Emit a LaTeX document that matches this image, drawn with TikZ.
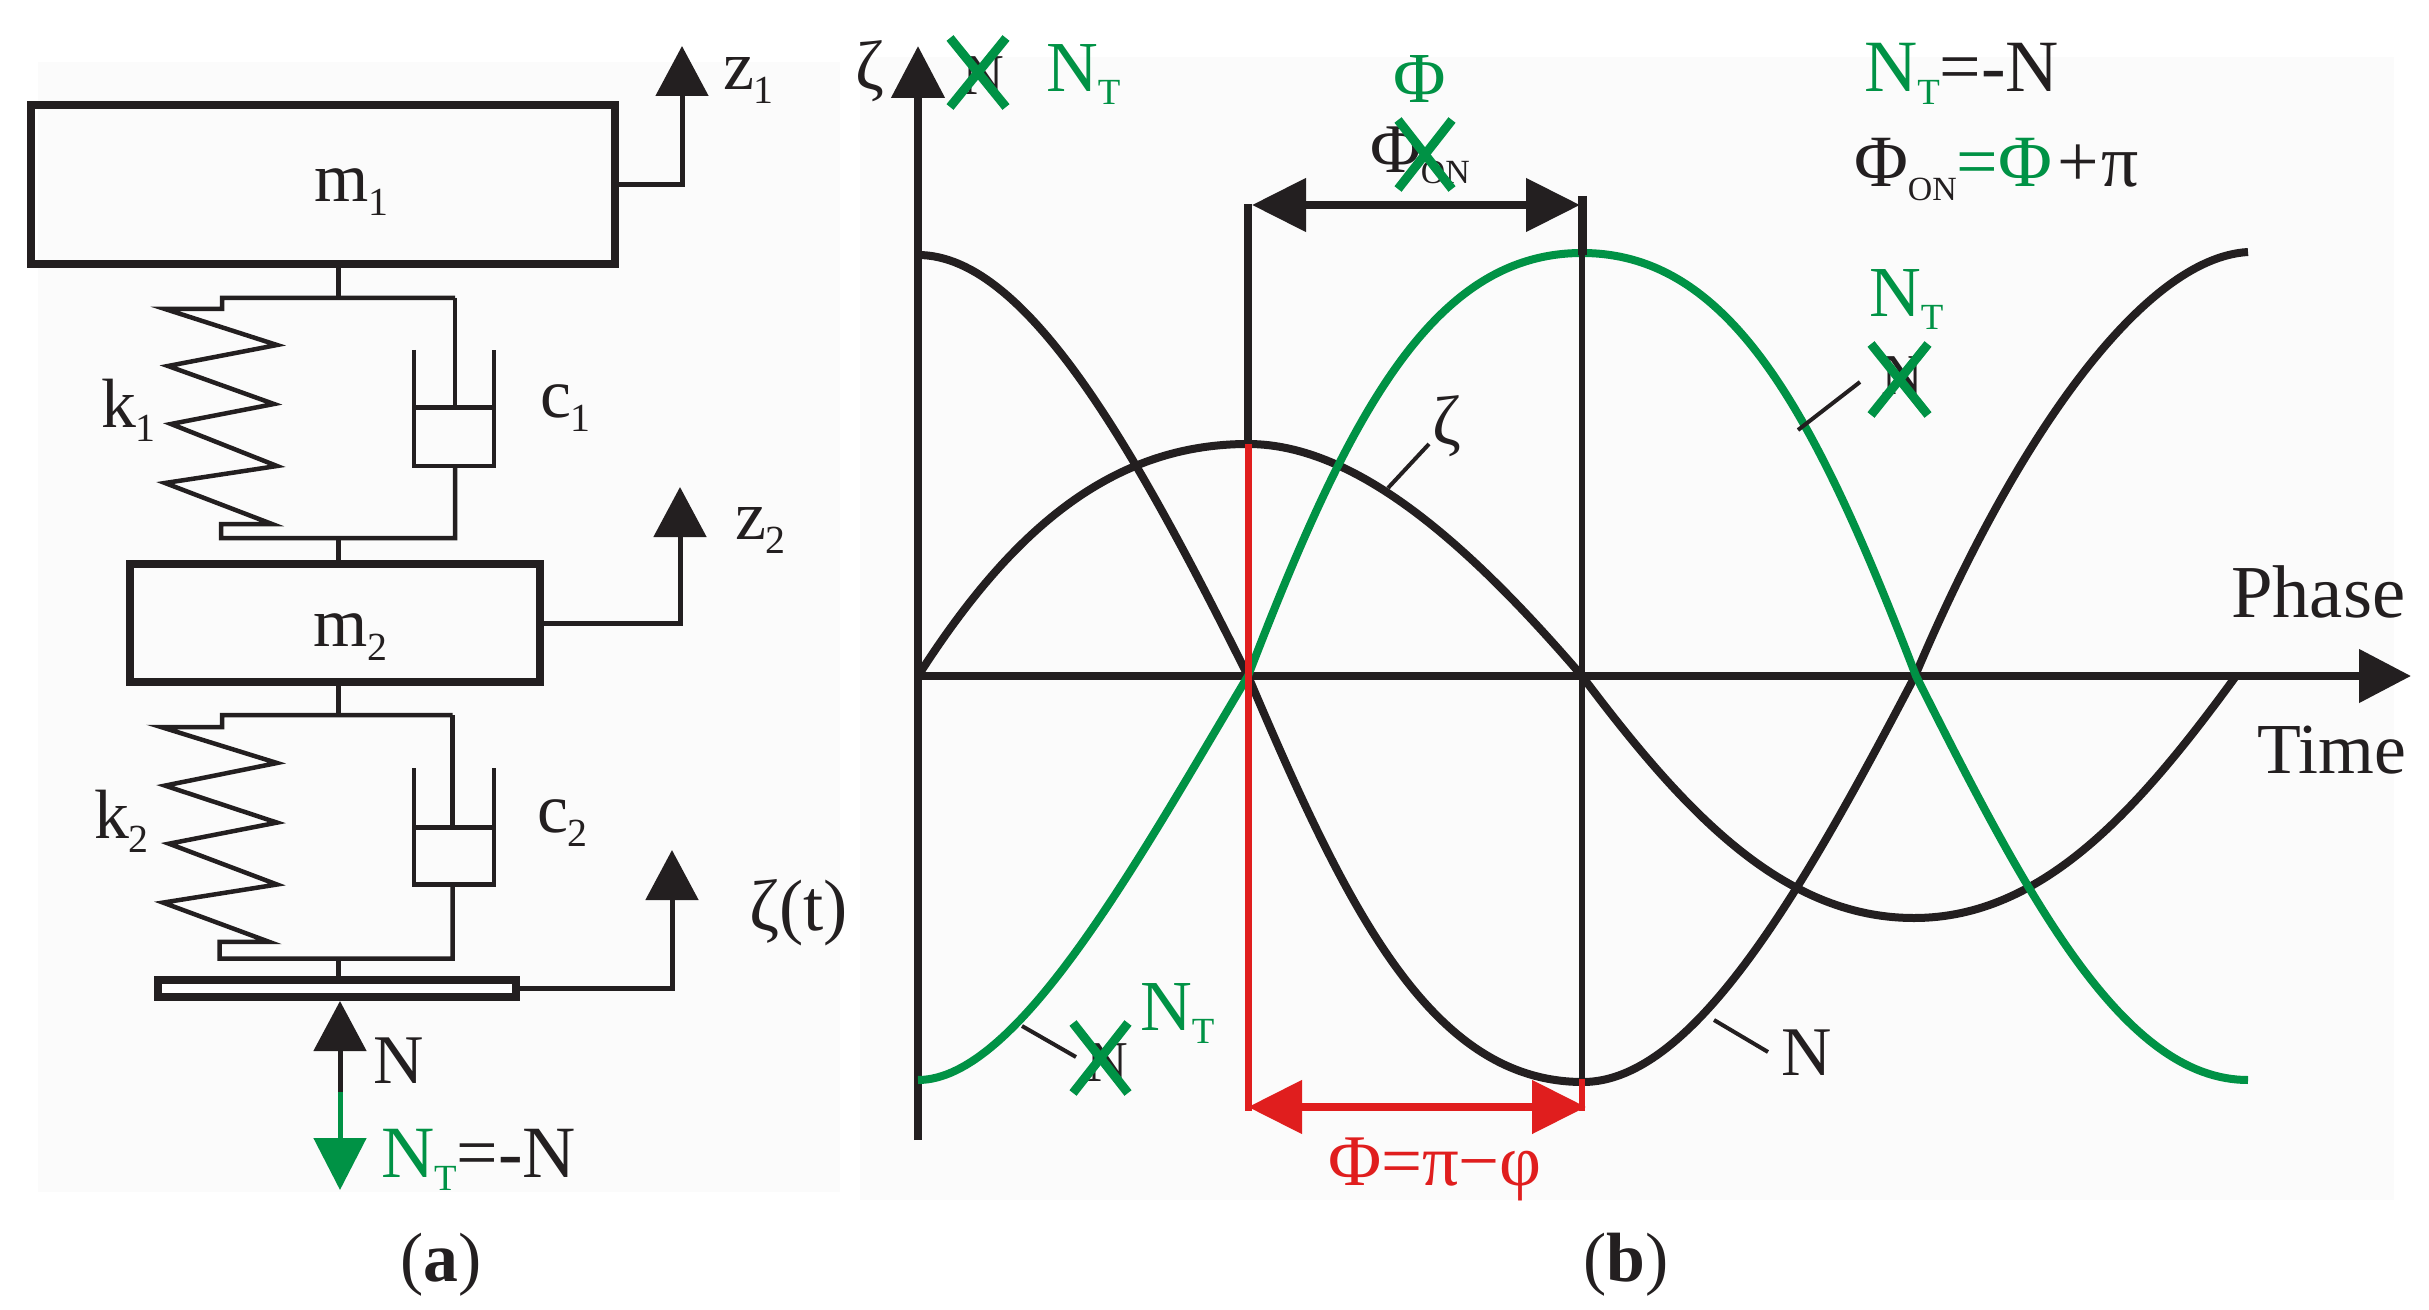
\documentclass[tikz,border=0pt]{standalone}
\usepackage{fontspec}
\setmainfont{Liberation Serif}
\usetikzlibrary{arrows.meta}
\definecolor{tblack}{HTML}{231F20}
\definecolor{tgreen}{HTML}{009245}
\definecolor{tred}{HTML}{E01E1E}
\definecolor{stipple}{HTML}{FBFBFB}
\newcommand{\sbs}[1]{\raisebox{-14bp}{\fontsize{40}{40}\selectfont #1}}
\newcommand{\sbt}[1]{\raisebox{-13bp}{\fontsize{37}{37}\selectfont #1}}
\tikzset{
  lab/.style={anchor=base west,inner sep=0pt,outer sep=0pt,text=tblack,font=\fontsize{70}{70}\selectfont},
  biglab/.style={lab,font=\fontsize{74}{74}\selectfont},
  glab/.style={lab,text=tgreen,font=\fontsize{72}{72}\selectfont},
  rlab/.style={lab,text=tred,font=\fontsize{73}{73}\selectfont},
  smallab/.style={lab,font=\fontsize{58}{58}\selectfont},
  massbox/.style={draw=tblack,line width=7.5bp,inner sep=0pt,outer sep=auto},
  mech/.style={draw=tblack,line width=4.5bp,miter limit=10},
  motion/.style={draw=tblack,line width=5bp,-{Triangle[length=50bp,width=52bp]}},
  axisline/.style={draw=tblack,line width=8bp},
  wave/.style={line width=8bp},
  leader/.style={draw=tblack,line width=4bp},
  crossout/.style={draw=tgreen,line width=9bp},
  span/.style={line width=8bp,{Triangle[length=54bp,width=52bp]}-{Triangle[length=54bp,width=52bp]}},
}
\begin{document}
\begin{tikzpicture}[x=1bp,y=-1bp]
\useasboundingbox (0,0) rectangle (2429,1310);
\fill[stipple] (38,62) rectangle (840,1192);
\fill[stipple] (860,57) rectangle (2394,1200);

% ---------- panel (a)
\node[massbox,minimum width=584bp,minimum height=159bp] (m1) at (323,184.5) {};
\node[massbox,minimum width=410bp,minimum height=118bp] (m2) at (335,623) {};
\node[draw=tblack,line width=8bp,fill=white,inner sep=0pt,outer sep=auto,minimum width=358bp,minimum height=17bp] (plate) at (337,988.7) {};

\coordinate (top1) at (338,298);
\coordinate (bot1) at (338,538);
\coordinate (top2) at (338,715);
\coordinate (bot2) at (338,958.6);
\coordinate (z1tip) at (682,46);
\coordinate (z2tip) at (680,487);
\coordinate (zetatip) at (672,850);
\coordinate (ntip) at (340,1001);
\coordinate (nmid) at (340,1092);
\coordinate (ttip) at (340,1190);

\draw[mech,line width=5bp] (338,267) -- (top1);
\draw[mech] (455,298) -- (222,298) -- (222,309) -- (165,309) -- (277,345) -- (168,366) -- (274,404) -- (171,424) -- (277,466) -- (165,483) -- (272,524) -- (221,524) -- (221,538) -- (455,538) -- (455,466);
\draw[mech] (455,298) -- (455,407.5);
\draw[mech] (414,350) -- (414,466) -- (494,466) -- (494,350);
\draw[mech] (414,407.5) -- (494,407.5);
\draw[mech,line width=5bp] (bot1) -- (338,560);

\draw[mech,line width=5bp] (338,686) -- (top2);
\draw[mech] (452.5,715) -- (222,715) -- (222,727) -- (161,727) -- (277,763) -- (165,785.6) -- (277,822.6) -- (169,843.7) -- (277,884.5) -- (163,902.6) -- (269,941.8) -- (219.5,941.8) -- (219.5,958.6) -- (452.5,958.6) -- (452.5,884.5);
\draw[mech] (452.5,715) -- (452.5,827.7);
\draw[mech] (414,768) -- (414,884.5) -- (494,884.5) -- (494,768);
\draw[mech] (414,827.7) -- (494,827.7);
\draw[mech,line width=5bp] (bot2) -- (338,976);

\draw[motion] (m1.east) -| (z1tip);
\draw[motion] (m2.east) -| (z2tip);
\draw[motion] (plate.east) -| (zetatip);
\draw[draw=tblack,line width=5bp] (nmid) -- (340,1045);
\draw[motion] (nmid) -- (ntip);
\draw[draw=tgreen,line width=5bp,-{Triangle[length=52bp,width=52bp]}] (nmid) -- (ttip);

\node[lab] (lm1) at (314,202) {m\sbs{1}};
\node[lab] (lm2) at (313,646) {m\sbs{2}};
\node[lab] (lz1) at (723,90) {z\sbs{1}};
\node[lab] (lz2) at (735,539) {z\sbs{2}};
\node[lab] (lk1) at (101,427) {k\sbs{1}};
\node[lab] (lk2) at (94,838) {k\sbs{2}};
\node[lab] (lc1) at (540,417) {c\sbs{1}};
\node[lab] (lc2) at (537,832) {c\sbs{2}};
\node[lab,font=\fontsize{73}{73}\selectfont] (lzt) at (749,930) {ζ(t)};
\node[lab] (ln) at (373,1083) {N};
\node[biglab] (lnt) at (381,1177) {\textcolor{tgreen}{N\sbt{T}}=-N};
\node[lab,font=\fontsize{70}{70}\selectfont\bfseries] (capa) at (400,1281) {\textmd{(}a\textmd{)}};

% ---------- panel (b)
\coordinate (ytop) at (918,46);
\coordinate (ybot) at (918,1140);
\coordinate (xleft) at (914,676);
\coordinate (xtip) at (2411,676);
\draw[axisline,-{Triangle[length=52bp,width=52bp]}] (ybot) -- (ytop);
\draw[axisline,-{Triangle[length=52bp,width=52bp]}] (xleft) -- (xtip);

% N
\draw[tblack,wave] (918,255) .. controls (1028,255) and (1138,456) .. (1248,676)
  .. controls (1348,912) and (1432,1082) .. (1583,1082)
  .. controls (1694,1082) and (1804,888) .. (1915,676)
  .. controls (2015,439) and (2143,258) .. (2248,252);
% zeta
\draw[tblack,wave] (918,676) .. controls (1010,532) and (1110,444) .. (1248,444)
  .. controls (1358,444) and (1472,548) .. (1582,676)
  .. controls (1682,809) and (1781,918) .. (1914,918)
  .. controls (2043,918) and (2139,809) .. (2236,676);
% N_T
\draw[tgreen,wave] (918,1080) .. controls (1018,1080) and (1138,860) .. (1248,676)
  .. controls (1348,416) and (1432,253) .. (1582,253)
  .. controls (1732,253) and (1816,416) .. (1916,676)
  .. controls (2026,894) and (2122,1080) .. (2248,1080);

\coordinate (vl1top) at (1248,204);
\coordinate (vl1mid) at (1248,444);
\coordinate (vl1bot) at (1248,1111);
\coordinate (vl2top) at (1582,196);
\coordinate (vl2mid) at (1582,255);
\coordinate (vl2low) at (1582,1079);
\coordinate (vl2bot) at (1582,1111);
\draw[tblack,line width=8bp] (vl1top) -- (vl1mid);
\draw[tblack,line width=9bp] (vl2top) -- (vl2mid);
\draw[tblack,line width=5.5bp] (vl2mid) -- (vl2low);
\draw[tred,line width=7bp] (vl1mid) -- (vl1bot);
\draw[tred,line width=6bp] (vl2low) -- (vl2bot);
\coordinate (ba) at (1252,205);
\coordinate (bb) at (1580,205);
\coordinate (ra) at (1248,1107);
\coordinate (rb) at (1586,1107);
\draw[tblack,span] (ba) -- (bb);
\draw[tred,span] (ra) -- (rb);

% labels and strike-outs
\node[lab] (yz) at (855,90) {ζ};
\node[smallab] (n1) at (962,95) {N};
\draw[crossout] (950,38) -- (1006,107);
\draw[crossout] (1006,38) -- (950,107);
\node[glab] (nt1) at (1046,92) {N\sbt{T}};

\node[glab] (phig) at (1393,103) {Φ};
\node[lab] (phion) at (1370,173) {Φ\raisebox{-11bp}{\fontsize{34}{34}\selectfont ON}};
\draw[crossout] (1398,120) -- (1452,189);
\draw[crossout] (1452,120) -- (1398,189);

\node[biglab] (eq1) at (1864,92) {\textcolor{tgreen}{N\sbt{T}}=-N};
\node[biglab] (eq2) at (1854,187) {Φ\raisebox{-14bp}{\fontsize{34}{34}\selectfont ON}\textcolor{tgreen}{=Φ}\hspace{5bp}+\hspace{3bp}π};

\node[glab] (nt2) at (1869,317) {N\sbt{T}};
\node[smallab] (n2) at (1881,394) {N};
\draw[crossout] (1871,344) -- (1928,415);
\draw[crossout] (1928,344) -- (1871,415);
\coordinate (l2a) at (1798,430);
\coordinate (l2b) at (1860,382);
\draw[leader] (l2a) -- (l2b);

\node[lab,font=\fontsize{75}{75}\selectfont] (lphase) at (2231,617) {Phase};
\node[lab,font=\fontsize{72}{72}\selectfont] (ltime) at (2257,773) {Time};

\node[lab] (zl) at (1432,444) {ζ};
\coordinate (l3a) at (1388,488);
\coordinate (l3b) at (1429,444);
\draw[leader] (l3a) -- (l3b);

\coordinate (l4a) at (1022,1026);
\coordinate (l4b) at (1076,1057);
\draw[leader] (l4a) -- (l4b);
\node[smallab] (n3) at (1086,1081) {N};
\draw[crossout] (1073,1023) -- (1128,1093);
\draw[crossout] (1128,1023) -- (1073,1093);
\node[glab] (nt3) at (1140,1030) {N\sbt{T}};

\coordinate (l5a) at (1714,1020);
\coordinate (l5b) at (1768,1052);
\draw[leader] (l5a) -- (l5b);
\node[lab] (nl) at (1781,1075) {N};

\node[rlab] (plabel) at (1328,1185) {Φ=π−φ};
\node[lab,font=\fontsize{70}{70}\selectfont\bfseries] (capb) at (1583,1281) {\textmd{(}b\textmd{)}};
\end{tikzpicture}
\end{document}
